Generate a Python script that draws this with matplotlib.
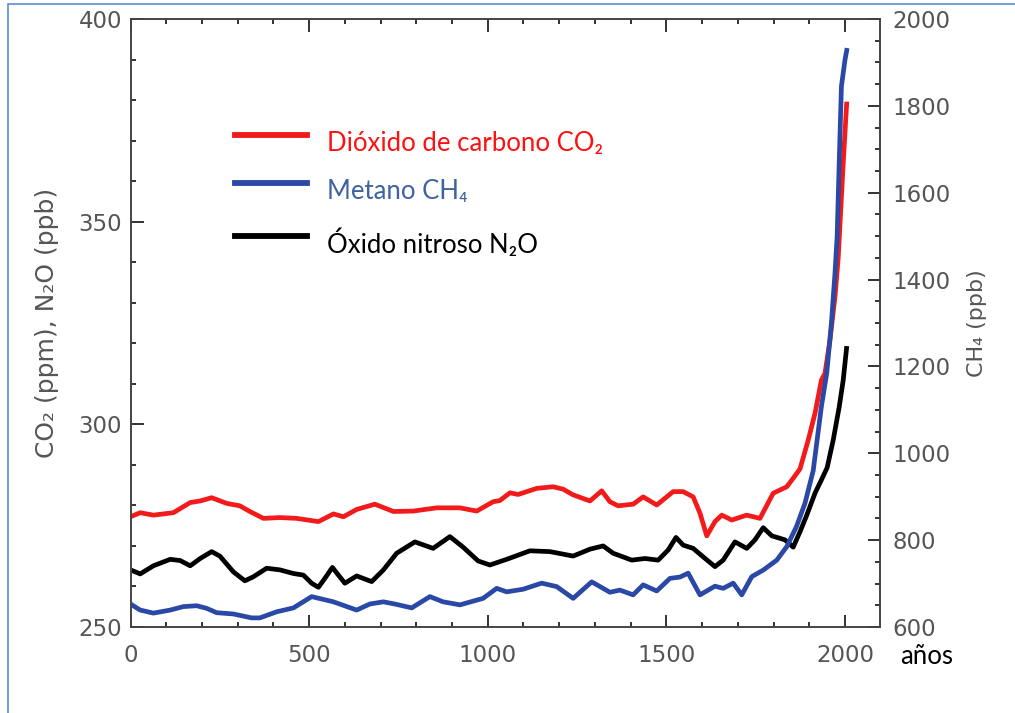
import numpy as np
import matplotlib
matplotlib.use("Agg")
import matplotlib.pyplot as plt
from matplotlib.ticker import MultipleLocator
from matplotlib.lines import Line2D
from matplotlib.patches import Rectangle

# CO2 (ppm)
co2_years = [0, 27, 64, 120, 167, 195, 227, 269, 306, 334, 372, 418, 465, 526, 568, 596,
             633, 684, 736, 791, 857, 922, 969, 1015, 1034, 1062, 1085, 1137, 1183, 1211,
             1239, 1286, 1319, 1342, 1365, 1407, 1435, 1473, 1519, 1547, 1575, 1594, 1613,
             1636, 1655, 1683, 1725, 1762, 1799, 1818, 1837, 1855, 1874, 1897, 1916, 1934,
             1944, 1958, 1972, 1981, 1995, 2005]
co2_vals = [277.2, 278.2, 277.6, 278.2, 280.7, 281.1, 281.9, 280.5, 279.9, 278.5, 276.8,
            277.0, 276.8, 276.0, 277.9, 277.2, 279.0, 280.3, 278.5, 278.6, 279.4, 279.4,
            278.6, 280.9, 281.2, 283.1, 282.7, 284.2, 284.6, 284.0, 282.6, 281.1, 283.6,
            280.9, 279.9, 280.3, 282.1, 280.1, 283.4, 283.4, 282.1, 278.1, 272.5, 276.0,
            277.6, 276.4, 277.6, 276.8, 283.0, 283.8, 284.6, 286.7, 289.0, 296.1, 302.7,
            310.9, 312.6, 320.8, 331.5, 341.0, 364.4, 379.6]

# CH4 (ppb)
ch4_years = [0, 27, 64, 111, 148, 185, 213, 241, 288, 339, 362, 409, 456, 507, 568, 633,
             670, 708, 745, 787, 838, 875, 922, 987, 1025, 1053, 1099, 1151, 1193, 1239,
             1291, 1342, 1370, 1407, 1435, 1473, 1510, 1538, 1561, 1594, 1636, 1659, 1687,
             1711, 1739, 1771, 1809, 1837, 1864, 1888, 1911, 1934, 1949, 1962, 1972, 1978,
             1984, 1990, 2000, 2006]
ch4_vals = [653, 639, 632, 639, 647, 649, 643, 633, 630, 621, 621, 635, 644, 670, 658, 639,
            653, 658, 652, 644, 670, 658, 651, 666, 689, 681, 687, 701, 693, 666, 704, 680,
            685, 674, 697, 683, 712, 715, 724, 674, 694, 689, 701, 674, 716, 731, 754, 785,
            831, 885, 960, 1108, 1185, 1300, 1415, 1499, 1676, 1845, 1906, 1933]

# N2O (ppb)
n2o_years = [0, 27, 64, 111, 139, 167, 195, 227, 250, 288, 320, 344, 381, 418, 456, 484,
             507, 526, 544, 565, 582, 600, 633, 675, 708, 745, 796, 847, 894, 931, 973,
             1006, 1053, 1118, 1174, 1239, 1286, 1323, 1351, 1403, 1440, 1477, 1505, 1527,
             1547, 1575, 1603, 1636, 1659, 1692, 1725, 1748, 1771, 1795, 1832, 1855, 1874,
             1893, 1916, 1934, 1950, 1967, 1984, 1995, 2005]
n2o_vals = [264.1, 263.1, 265.1, 266.7, 266.4, 265.1, 266.9, 268.6, 267.5, 263.6, 261.4,
            262.4, 264.5, 264.1, 263.2, 262.8, 260.8, 259.8, 262.0, 264.7, 262.8, 260.8,
            262.6, 261.2, 264.1, 268.2, 271.0, 269.4, 272.3, 269.7, 266.3, 265.3, 266.7,
            268.8, 268.6, 267.5, 269.2, 270.0, 268.2, 266.5, 266.9, 266.5, 269.0, 272.1,
            270.2, 269.4, 267.3, 264.9, 266.5, 271.0, 269.4, 271.5, 274.5, 272.5, 271.5,
            269.7, 273.5, 277.6, 283.0, 286.3, 289.3, 296.1, 304.4, 310.9, 319.3]

x_ticks = [0, 500, 1000, 1500, 2000]
left_ticks = [250, 300, 350, 400]
right_ticks = [600, 800, 1000, 1200, 1400, 1600, 1800, 2000]

RED = "#f21a1a"
BLUE = "#2a48a6"
GRAY = "#555555"
TICK = "#333333"

fig = plt.figure(figsize=(10.15, 7.13), dpi=100)
ax = fig.add_axes([0.1286, 0.1206, 0.867 - 0.1286, 0.9734 - 0.1206])
ax2 = ax.twinx()

style = dict(lw=3.4, solid_capstyle="butt", solid_joinstyle="round")
ax.plot(co2_years, co2_vals, color=RED, **style)
ax.plot(n2o_years, n2o_vals, color="black", **style)
ax2.plot(ch4_years, ch4_vals, color=BLUE, **style)

ax.set_xlim(0, 2098)
ax.set_ylim(250, 400)
ax2.set_ylim(600, 2000)

ax.set_xticks(x_ticks)
ax.set_yticks(left_ticks)
ax2.set_yticks(right_ticks)
ax.xaxis.set_minor_locator(MultipleLocator(100))
ax.yaxis.set_minor_locator(MultipleLocator(10))
ax2.yaxis.set_minor_locator(MultipleLocator(50))

for a in (ax, ax2):
    for s in a.spines.values():
        s.set_color("#444444")
        s.set_linewidth(1.2)

ax.tick_params(axis="x", which="both", direction="in", bottom=True, top=True, color=TICK,
               labelcolor=GRAY, labelsize=16.5, pad=12)
ax.tick_params(axis="x", which="major", length=9, width=1.4)
ax.tick_params(axis="x", which="minor", length=3.6, width=1.4)
ax.tick_params(axis="y", which="both", direction="in", left=True, right=False, color=TICK,
               labelcolor=GRAY, labelsize=16.5, pad=6)
ax.tick_params(axis="y", which="major", length=9, width=1.4)
ax.tick_params(axis="y", which="minor", length=3.6, width=1.4)
ax2.tick_params(axis="y", which="both", direction="in", color=TICK,
                labelcolor=GRAY, labelsize=16.5, pad=9)
ax2.tick_params(axis="y", which="major", length=9, width=1.4)
ax2.tick_params(axis="y", which="minor", length=3.6, width=1.4)

ax.set_ylabel("CO₂ (ppm), N₂O (ppb)", color=GRAY, fontsize=18, labelpad=14)
ax2.set_ylabel("CH₄ (ppb)", color=GRAY, fontsize=16, labelpad=12)

fam = ["Lato", "Noto Sans", "DejaVu Sans"]
fig.text(900 / 1015, 1 - 657 / 713, "años", fontsize=18.5, family=fam, va="center", ha="left")

# legend drawn by hand, as in the picture
legend_items = [("Dióxido de carbono CO₂", RED, "#ff1010", 135),
                ("Metano CH₄", BLUE, "#3d63a0", 183),
                ("Óxido nitroso N₂O", "black", "black", 236)]
for label, lc, tc, py in legend_items:
    yf = 1 - py / 713
    fig.add_artist(Line2D([235 / 1015, 307 / 1015], [yf, yf], color=lc, lw=4.2,
                          transform=fig.transFigure))
    fig.text(327 / 1015, yf - 8 / 713, label, color=tc, fontsize=18.5, family=fam,
             va="center", ha="left")

# thin blue frame around the picture
fig.add_artist(Rectangle((8 / 1015, -0.05), 1.1, 1.05 - 4 / 713, fill=False,
                         edgecolor="#5b8bd0", lw=1.2, transform=fig.transFigure))

fig.savefig("out.png", dpi=100)
